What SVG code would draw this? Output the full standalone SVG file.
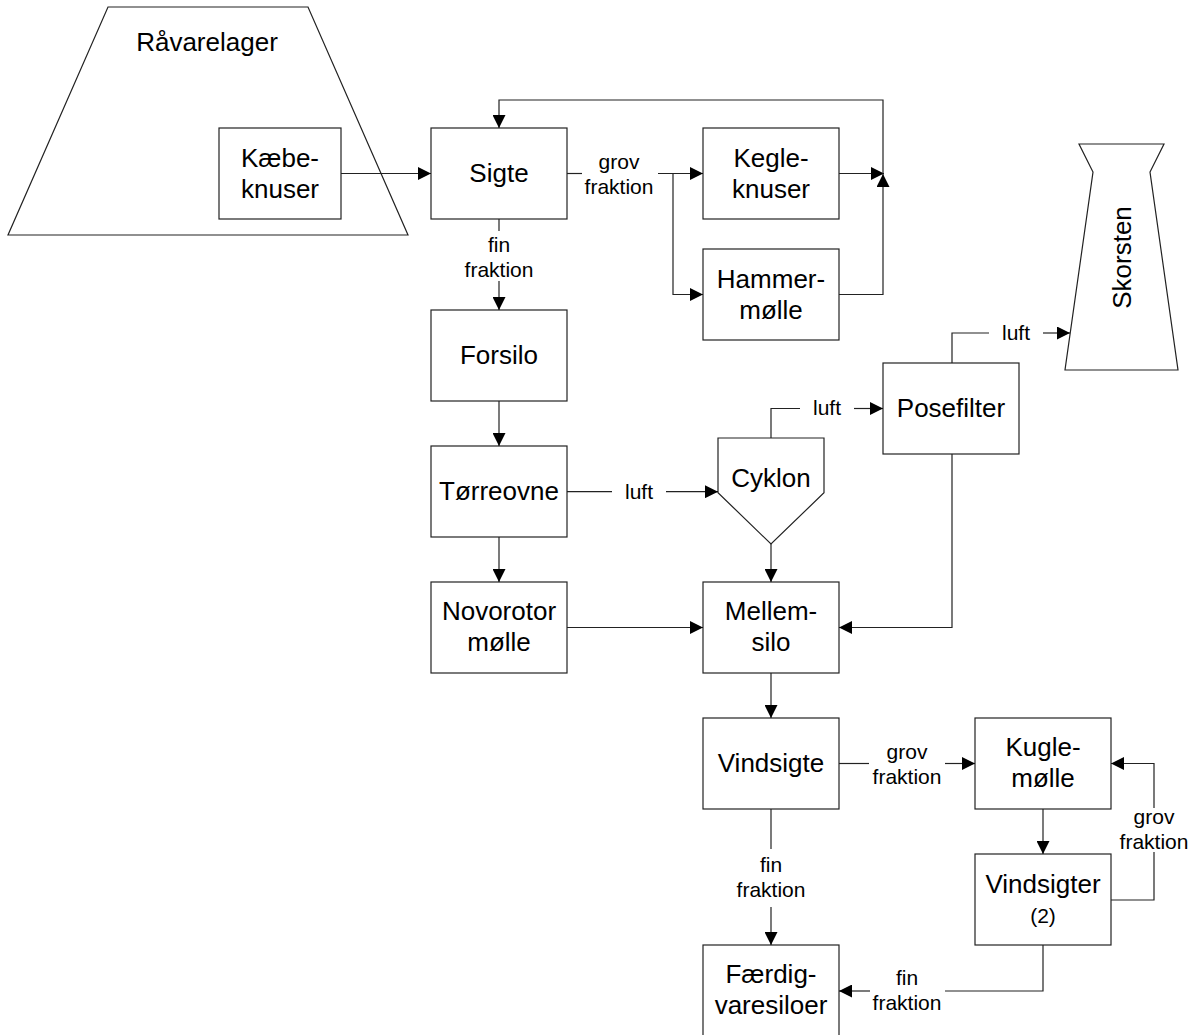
<svg xmlns="http://www.w3.org/2000/svg" width="1194" height="1035" viewBox="0 0 1194 1035">
<style>
.box{fill:#fff;stroke:#222;stroke-width:1.2}
.ln{fill:none;stroke:#222;stroke-width:1.2}
.t{font-family:"Liberation Sans",Arial,sans-serif;font-size:26px;fill:#000;text-anchor:middle}
.s{font-family:"Liberation Sans",Arial,sans-serif;font-size:21px;fill:#000;text-anchor:middle}
</style>
<defs>
<marker id="ar" markerUnits="userSpaceOnUse" markerWidth="13" markerHeight="13" refX="13" refY="6.5" orient="auto">
<path d="M0,0 L13,6.5 L0,13 z" fill="#000"/>
</marker>
</defs>
<rect width="1194" height="1035" fill="#fff"/>

<g id="raavarelager">
<polygon class="box" points="108,7 308,7 408,235 8,235"/>
<text class="t" x="207" y="51">Råvarelager</text>
</g>
<g id="skorsten">
<polygon class="box" points="1079,144 1164,144 1150,172 1178,370 1065,370 1093,172"/>
<text class="t" transform="translate(1131,257.5) rotate(-90)">Skorsten</text>
</g>
<g id="kaebeknuser">
<rect class="box" x="219" y="128" width="122" height="91"/>
<text class="t" x="280" y="166.5">Kæbe-</text>
<text class="t" x="280" y="197.5">knuser</text>
</g>
<g id="sigte">
<rect class="box" x="431" y="128" width="136" height="91"/>
<text class="t" x="499" y="182">Sigte</text>
</g>
<g id="kegleknuser">
<rect class="box" x="703" y="128" width="136" height="91"/>
<text class="t" x="771" y="166.5">Kegle-</text>
<text class="t" x="771" y="197.5">knuser</text>
</g>
<g id="hammermoelle">
<rect class="box" x="703" y="249" width="136" height="91"/>
<text class="t" x="771" y="287.5">Hammer-</text>
<text class="t" x="771" y="318.5">mølle</text>
</g>
<g id="forsilo">
<rect class="box" x="431" y="310" width="136" height="91"/>
<text class="t" x="499" y="364">Forsilo</text>
</g>
<g id="toerreovne">
<rect class="box" x="431" y="446" width="136" height="91"/>
<text class="t" x="499" y="500">Tørreovne</text>
</g>
<g id="novorotor">
<rect class="box" x="431" y="582" width="136" height="91"/>
<text class="t" x="499" y="620">Novorotor</text>
<text class="t" x="499" y="651">mølle</text>
</g>
<g id="cyklon">
<polygon class="box" points="718,438 824,438 824,492.7 771,544 718,492.7"/>
<text class="t" x="771" y="487">Cyklon</text>
</g>
<g id="posefilter">
<rect class="box" x="883" y="363" width="136" height="91"/>
<text class="t" x="951" y="417">Posefilter</text>
</g>
<g id="mellemsilo">
<rect class="box" x="703" y="582" width="136" height="91"/>
<text class="t" x="771" y="620">Mellem-</text>
<text class="t" x="771" y="651">silo</text>
</g>
<g id="vindsigte">
<rect class="box" x="703" y="718" width="136" height="91"/>
<text class="t" x="771" y="772">Vindsigte</text>
</g>
<g id="kuglemoelle">
<rect class="box" x="975" y="718" width="136" height="91"/>
<text class="t" x="1043" y="756">Kugle-</text>
<text class="t" x="1043" y="787">mølle</text>
</g>
<g id="vindsigter2">
<rect class="box" x="975" y="854" width="136" height="91"/>
<text class="t" x="1043" y="893">Vindsigter</text>
<text class="s" x="1043" y="923">(2)</text>
</g>
<g id="faerdigvaresiloer">
<rect class="box" x="703" y="945" width="136" height="92"/>
<text class="t" x="771" y="983">Færdig-</text>
<text class="t" x="771" y="1014">varesiloer</text>
</g>

<g id="connectors">
<path class="ln" d="M341,173.5 H431" marker-end="url(#ar)"/>
<path class="ln" d="M567,173.5 H582"/>
<path class="ln" d="M658,173.5 H703" marker-end="url(#ar)"/>
<path class="ln" d="M673,173.5 V294.5 H703" marker-end="url(#ar)"/>
<path class="ln" d="M839,173.5 H884" marker-end="url(#ar)"/>
<path class="ln" d="M839,294.5 H883 V174" marker-end="url(#ar)"/>
<path class="ln" d="M883,174 V100 H499 V128" marker-end="url(#ar)"/>
<path class="ln" d="M499,219 V231"/>
<path class="ln" d="M499,281 V310" marker-end="url(#ar)"/>
<path class="ln" d="M499,401 V446" marker-end="url(#ar)"/>
<path class="ln" d="M499,537 V582" marker-end="url(#ar)"/>
<path class="ln" d="M567,491.7 H612"/>
<path class="ln" d="M666,491.7 H718" marker-end="url(#ar)"/>
<path class="ln" d="M771,544 V582" marker-end="url(#ar)"/>
<path class="ln" d="M771,438 V408.5 H800"/>
<path class="ln" d="M854,408.5 H883" marker-end="url(#ar)"/>
<path class="ln" d="M952,363 V333 H989"/>
<path class="ln" d="M1043,333 H1070" marker-end="url(#ar)"/>
<path class="ln" d="M952,454 V627.5 H839" marker-end="url(#ar)"/>
<path class="ln" d="M567,627.5 H703" marker-end="url(#ar)"/>
<path class="ln" d="M771,673 V718" marker-end="url(#ar)"/>
<path class="ln" d="M839,763.5 H869"/>
<path class="ln" d="M945,763.5 H975" marker-end="url(#ar)"/>
<path class="ln" d="M771,809 V849"/>
<path class="ln" d="M771,907 V945" marker-end="url(#ar)"/>
<path class="ln" d="M1043,809 V854" marker-end="url(#ar)"/>
<path class="ln" d="M1111,900 H1154 V852"/>
<path class="ln" d="M1154,808 V763.5 H1111" marker-end="url(#ar)"/>
<path class="ln" d="M1043,945 V991 H945"/>
<path class="ln" d="M870,991 H839" marker-end="url(#ar)"/>
<text class="s" x="619" y="168.5">grov</text>
<text class="s" x="619" y="193.5">fraktion</text>
<text class="s" x="499" y="252">fin</text>
<text class="s" x="499" y="277">fraktion</text>
<text class="s" x="639" y="499">luft</text>
<text class="s" x="827" y="415">luft</text>
<text class="s" x="1016" y="339.5">luft</text>
<text class="s" x="907" y="758.5">grov</text>
<text class="s" x="907" y="783.5">fraktion</text>
<text class="s" x="771" y="872">fin</text>
<text class="s" x="771" y="897">fraktion</text>
<text class="s" x="1154" y="824">grov</text>
<text class="s" x="1154" y="849">fraktion</text>
<text class="s" x="907" y="985">fin</text>
<text class="s" x="907" y="1010">fraktion</text>
</g>
</svg>
